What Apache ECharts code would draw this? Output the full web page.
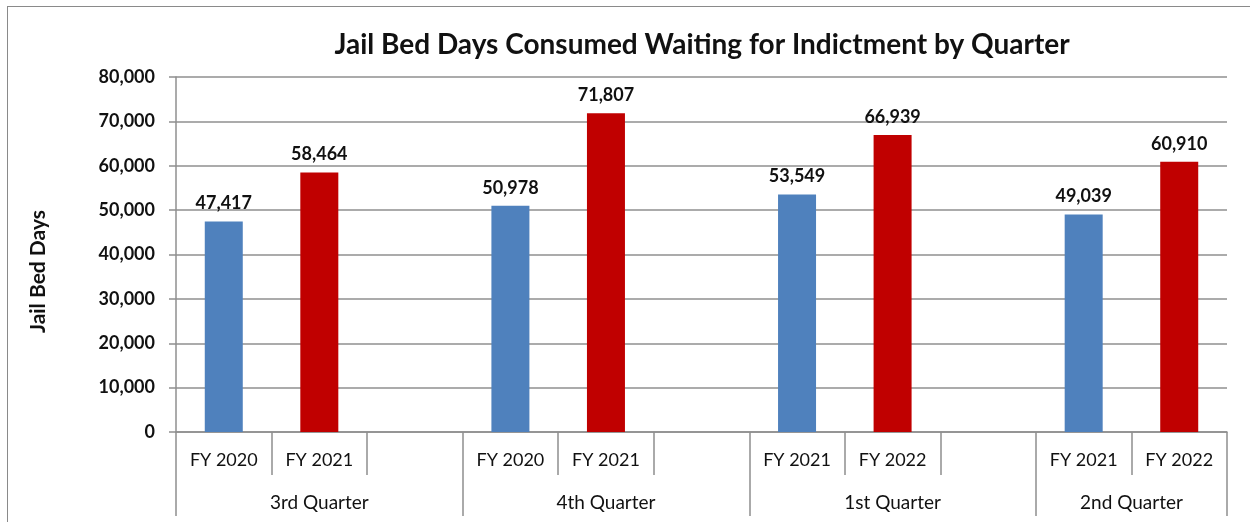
<!DOCTYPE html>
<html>
<head>
<meta charset="utf-8">
<script src="https://cdn.jsdelivr.net/npm/echarts@6/dist/echarts.min.js"></script>
<style>
  html, body { margin: 0; padding: 0; background: #fff; }
  #chart { position: absolute; left: 0; top: 0; width: 1250px; height: 522px; }
  #frame { position: absolute; left: 7px; top: 6px; width: 1300px; height: 600px; border-left: 1.5px solid #8a8a8a; border-top: 1.5px solid #8a8a8a; pointer-events: none; }
</style>
</head>
<body>
<div id="chart"></div>
<div id="frame"></div>
<script>
const titleText = 'Jail Bed Days Consumed Waiting for Indictment by Quarter';
const yAxisName = 'Jail Bed Days';
const categories = ['FY 2020', 'FY 2021', '', 'FY 2020', 'FY 2021', '', 'FY 2021', 'FY 2022', '', 'FY 2021', 'FY 2022'];
const blueValues = [47417, null, null, 50978, null, null, 53549, null, null, 49039, null];
const redValues = [null, 58464, null, null, 71807, null, null, 66939, null, null, 60910];
const quarterLabels = ['3rd Quarter', '4th Quarter', '1st Quarter', '2nd Quarter'];
const quarterBounds = [0, 3, 6, 9, 11];
const quarterCenters = [1.5, 4.5, 7.5, 10];
const yMin = 0, yMax = 80000, yInterval = 10000;

const FONT = 'Lato';
const GRID_COLOR = '#8f8f8f';
const fmt = v => v.toLocaleString('en-US');

const chart = echarts.init(document.getElementById('chart'), null, { renderer: 'canvas' });
const labelCfg = {
  show: true, position: 'top', distance: 9,
  fontFamily: FONT, fontWeight: 'bold', fontSize: 18, color: '#111',
  formatter: p => fmt(p.value)
};
chart.setOption({
  animation: false,
  backgroundColor: '#fff',
  title: {
    text: titleText, left: 697, top: 26, textAlign: 'center',
    textStyle: { fontFamily: FONT, fontWeight: 'bold', fontSize: 28, color: '#111' }
  },
  grid: { left: 176, right: 23, top: 77, bottom: 90, containLabel: false },
  xAxis: [
    {
      type: 'category', data: categories, boundaryGap: true,
      axisLine: { show: true, lineStyle: { color: GRID_COLOR, width: 1.5 } },
      axisTick: { show: true, interval: 0, length: 43, alignWithLabel: false, lineStyle: { color: GRID_COLOR, width: 1.5 } },
      axisLabel: { interval: 0, margin: 19, fontFamily: FONT, fontSize: 18, color: '#111' },
      splitLine: { show: false }
    },
    {
      type: 'value', min: 0, max: categories.length, position: 'bottom',
      axisLine: { show: false },
      axisTick: { show: true, customValues: quarterBounds, length: 84, lineStyle: { color: GRID_COLOR, width: 1.5 } },
      axisLabel: {
        show: true, customValues: quarterCenters, margin: 61,
        fontFamily: FONT, fontSize: 19, color: '#111',
        formatter: v => quarterLabels[quarterCenters.indexOf(v)] || ''
      },
      splitLine: { show: false }
    }
  ],
  yAxis: {
    type: 'value', min: yMin, max: yMax, interval: yInterval,
    name: yAxisName, nameLocation: 'middle', nameGap: 127, nameRotate: 90,
    nameTextStyle: { fontFamily: FONT, fontWeight: 'bold', fontSize: 21, color: '#111', padding: [0, 34, 0, 0] },
    axisLine: { show: true, lineStyle: { color: GRID_COLOR, width: 1.5 } },
    axisTick: { show: true, length: 7, lineStyle: { color: GRID_COLOR, width: 1.5 } },
    axisLabel: { margin: 21, fontFamily: FONT, fontWeight: 'bold', fontSize: 18, color: '#111', formatter: v => fmt(v) },
    splitLine: { show: true, lineStyle: { color: GRID_COLOR, width: 1.5 } }
  },
  series: [
    { type: 'bar', name: 'Blue', data: blueValues, barWidth: 38, barGap: '-100%', itemStyle: { color: '#4F81BD' }, label: labelCfg },
    { type: 'bar', name: 'Red', data: redValues, barWidth: 38, barGap: '-100%', itemStyle: { color: '#C00000' }, label: labelCfg }
  ]
});
</script>
</body>
</html>
